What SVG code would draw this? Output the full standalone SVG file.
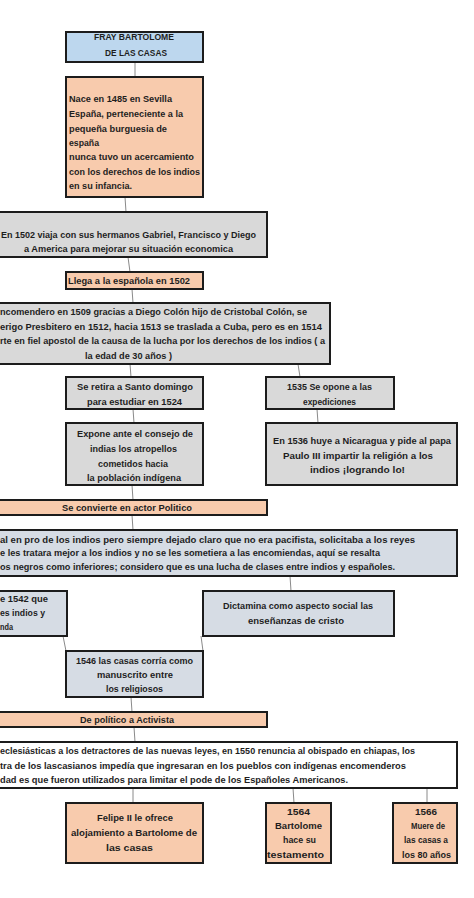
<svg xmlns="http://www.w3.org/2000/svg" width="474" height="898" viewBox="0 0 474 898">
<style>
.b{stroke:#1c1c1c;stroke-width:2}
.or{fill:#f8cbad}.gr{fill:#d9d9d9}.bl{fill:#bdd7ee}.bg{fill:#d6dce4}.wh{fill:#ffffff}
text{font-family:"Liberation Sans",Arial,sans-serif;font-size:9px;font-weight:bold;fill:#1e1e1e}
.c{text-anchor:middle}.e{text-anchor:end}
.cn line{stroke:#8a8a8a;stroke-width:1}
</style>
<rect width="474" height="898" fill="#ffffff"/>
<g class="cn" id="connectors">
<line x1="135" y1="62" x2="135" y2="77"/>
<line x1="125" y1="197" x2="126" y2="212"/>
<line x1="128" y1="257" x2="130" y2="272"/>
<line x1="132" y1="289" x2="133" y2="303"/>
<line x1="130" y1="364" x2="131" y2="377"/>
<line x1="298" y1="364" x2="300" y2="377"/>
<line x1="133" y1="409" x2="134" y2="423"/>
<line x1="317" y1="409" x2="318" y2="423"/>
<line x1="132" y1="485" x2="133" y2="500"/>
<line x1="132" y1="515" x2="133" y2="530"/>
<line x1="290" y1="576" x2="291" y2="591"/>
<line x1="63" y1="636" x2="66" y2="651"/>
<line x1="201" y1="636" x2="203" y2="651"/>
<line x1="131" y1="697" x2="132" y2="712"/>
<line x1="134" y1="727" x2="135" y2="742"/>
<line x1="133" y1="788" x2="133" y2="803"/>
<line x1="293" y1="788" x2="294" y2="803"/>
<line x1="427" y1="788" x2="427" y2="803"/>
</g>
<g id="title">
<rect class="b bl" x="66" y="32" width="137" height="30"/>
<text class="c" x="134" y="40" textLength="80" lengthAdjust="spacingAndGlyphs">FRAY BARTOLOME</text>
<text class="c" x="136" y="56" textLength="62" lengthAdjust="spacingAndGlyphs">DE LAS CASAS</text>
</g>
<g id="nace">
<rect class="b or" x="66" y="77" width="137" height="120"/>
<text x="69" y="102" textLength="103" lengthAdjust="spacingAndGlyphs">Nace en 1485 en Sevilla</text>
<text x="69" y="117" textLength="114" lengthAdjust="spacingAndGlyphs">España, perteneciente a la</text>
<text x="69" y="132" textLength="98" lengthAdjust="spacingAndGlyphs">pequeña burguesia de</text>
<text x="69" y="146" textLength="30" lengthAdjust="spacingAndGlyphs">españa</text>
<text x="69" y="160" textLength="125" lengthAdjust="spacingAndGlyphs">nunca tuvo un acercamiento</text>
<text x="69" y="175" textLength="131" lengthAdjust="spacingAndGlyphs">con los derechos de los indios</text>
<text x="69" y="189" textLength="63" lengthAdjust="spacingAndGlyphs">en su infancia.</text>
</g>
<g id="viaja">
<rect class="b gr" x="-11" y="212" width="278" height="45"/>
<text class="c" x="128.5" y="238" textLength="255" lengthAdjust="spacingAndGlyphs">En 1502 viaja con sus hermanos Gabriel, Francisco y Diego</text>
<text class="c" x="128.5" y="252" textLength="209" lengthAdjust="spacingAndGlyphs">a America para mejorar su situación economica</text>
</g>
<g id="llega">
<rect class="b or" x="66" y="272" width="137" height="17"/>
<text x="68" y="284" textLength="122" lengthAdjust="spacingAndGlyphs">Llega a la española en 1502</text>
</g>
<g id="encomendero">
<rect class="b gr" x="-73" y="303" width="403" height="61"/>
<text class="e" x="307" y="315" textLength="307" lengthAdjust="spacingAndGlyphs">ncomendero en 1509 gracias a Diego Colón hijo de Cristobal Colón, se</text>
<text class="e" x="322" y="330" textLength="322" lengthAdjust="spacingAndGlyphs">erigo Presbitero en 1512, hacia 1513 se traslada a Cuba, pero es en 1514</text>
<text class="e" x="325" y="344" textLength="325" lengthAdjust="spacingAndGlyphs">rte en fiel apostol de la causa de la lucha por los derechos de los indios ( a</text>
<text class="c" x="128.5" y="359" textLength="87" lengthAdjust="spacingAndGlyphs">la edad de 30 años )</text>
</g>
<g id="retira">
<rect class="b gr" x="66" y="377" width="137" height="32"/>
<text class="c" x="135" y="390" textLength="116" lengthAdjust="spacingAndGlyphs">Se retira a Santo domingo</text>
<text class="c" x="134.5" y="405" textLength="95" lengthAdjust="spacingAndGlyphs">para estudiar en 1524</text>
</g>
<g id="opone">
<rect class="b gr" x="266" y="377" width="128" height="32"/>
<text class="c" x="329.5" y="390" textLength="85" lengthAdjust="spacingAndGlyphs">1535 Se opone a las</text>
<text class="c" x="329.5" y="405" textLength="53" lengthAdjust="spacingAndGlyphs">expediciones</text>
</g>
<g id="expone">
<rect class="b gr" x="66" y="423" width="137" height="62"/>
<text class="c" x="135" y="437" textLength="116" lengthAdjust="spacingAndGlyphs">Expone ante el consejo de</text>
<text class="c" x="133.5" y="452" textLength="87" lengthAdjust="spacingAndGlyphs">indias los atropellos</text>
<text class="c" x="133" y="467" textLength="70" lengthAdjust="spacingAndGlyphs">cometidos hacia</text>
<text class="c" x="134" y="481" textLength="94" lengthAdjust="spacingAndGlyphs">la población indígena</text>
</g>
<g id="nicaragua">
<rect class="b gr" x="266" y="423" width="191" height="62"/>
<text class="c" x="362" y="444" textLength="178" lengthAdjust="spacingAndGlyphs">En 1536 huye a Nicaragua y pide al papa</text>
<text class="c" x="358" y="459" textLength="150" lengthAdjust="spacingAndGlyphs">Paulo III impartir la religión a los</text>
<text class="c" x="357.5" y="473" textLength="95" lengthAdjust="spacingAndGlyphs">indios ¡logrando lo!</text>
</g>
<g id="politico">
<rect class="b or" x="-11" y="500" width="278" height="15"/>
<text class="c" x="127" y="511" textLength="130" lengthAdjust="spacingAndGlyphs">Se convierte en actor Politico</text>
</g>
<g id="pro">
<rect class="b bg" x="-50" y="530" width="507" height="46"/>
<text x="0" y="543" textLength="415" lengthAdjust="spacingAndGlyphs">al en pro de los indios pero siempre dejado claro que no era pacifista, solicitaba a los reyes</text>
<text x="0" y="556" textLength="380" lengthAdjust="spacingAndGlyphs">e les tratara mejor a los indios y no se les sometiera a las encomiendas, aquí se resalta</text>
<text x="0" y="570" textLength="395" lengthAdjust="spacingAndGlyphs">os negros como inferiores; considero que es una lucha de clases entre indios y españoles.</text>
</g>
<g id="leyes1542">
<rect class="b bg" x="-80" y="591" width="147" height="45"/>
<text x="0" y="602" textLength="48" lengthAdjust="spacingAndGlyphs">e 1542 que</text>
<text x="0" y="616" textLength="45" lengthAdjust="spacingAndGlyphs">es indios y</text>
<text x="0" y="630" textLength="13" lengthAdjust="spacingAndGlyphs">nda</text>
</g>
<g id="dictamina">
<rect class="b bg" x="203" y="591" width="191" height="45"/>
<text class="c" x="298" y="609" textLength="150" lengthAdjust="spacingAndGlyphs">Dictamina como aspecto social las</text>
<text class="c" x="296" y="624" textLength="96" lengthAdjust="spacingAndGlyphs">enseñanzas de cristo</text>
</g>
<g id="manuscrito">
<rect class="b bg" x="66" y="651" width="137" height="46"/>
<text class="c" x="134.5" y="664" textLength="117" lengthAdjust="spacingAndGlyphs">1546 las casas corría como</text>
<text class="c" x="135" y="678" textLength="76" lengthAdjust="spacingAndGlyphs">manuscrito entre</text>
<text class="c" x="134.5" y="692" textLength="57" lengthAdjust="spacingAndGlyphs">los religiosos</text>
</g>
<g id="activista">
<rect class="b or" x="-11" y="712" width="278" height="15"/>
<text class="c" x="127" y="723" textLength="94" lengthAdjust="spacingAndGlyphs">De político a Activista</text>
</g>
<g id="obispado">
<rect class="b wh" x="-50" y="742" width="507" height="46"/>
<text x="0" y="754" textLength="415" lengthAdjust="spacingAndGlyphs">eclesiásticas a los detractores de las nuevas leyes, en 1550 renuncia al obispado en chiapas, los</text>
<text x="0" y="769" textLength="406" lengthAdjust="spacingAndGlyphs">tra de los lascasianos impedía que ingresaran en los pueblos con indígenas encomenderos</text>
<text x="0" y="783" textLength="348" lengthAdjust="spacingAndGlyphs">dad es que fueron utilizados para limitar el pode de los Españoles Americanos.</text>
</g>
<g id="felipe">
<rect class="b or" x="66" y="803" width="137" height="60"/>
<text class="c" x="135" y="821" textLength="76" lengthAdjust="spacingAndGlyphs">Felipe II le ofrece</text>
<text class="c" x="134" y="836" textLength="126" lengthAdjust="spacingAndGlyphs">alojamiento a Bartolome de</text>
<text class="c" x="129.5" y="851" textLength="47" lengthAdjust="spacingAndGlyphs">las casas</text>
</g>
<g id="testamento">
<rect class="b or" x="266" y="803" width="65" height="60"/>
<text class="c" x="298.5" y="815" textLength="23" lengthAdjust="spacingAndGlyphs">1564</text>
<text class="c" x="298.5" y="829" textLength="47" lengthAdjust="spacingAndGlyphs">Bartolome</text>
<text class="c" x="299.5" y="843" textLength="33" lengthAdjust="spacingAndGlyphs">hace su</text>
<text class="c" x="295.5" y="858" textLength="57" lengthAdjust="spacingAndGlyphs">testamento</text>
</g>
<g id="muere">
<rect class="b or" x="393" y="803" width="64" height="60"/>
<text class="c" x="426" y="815" textLength="22" lengthAdjust="spacingAndGlyphs">1566</text>
<text class="c" x="428" y="829" textLength="34" lengthAdjust="spacingAndGlyphs">Muere de</text>
<text class="c" x="426" y="843" textLength="44" lengthAdjust="spacingAndGlyphs">las casas a</text>
<text class="c" x="426.5" y="858" textLength="49" lengthAdjust="spacingAndGlyphs">los 80 años</text>
</g>
</svg>
